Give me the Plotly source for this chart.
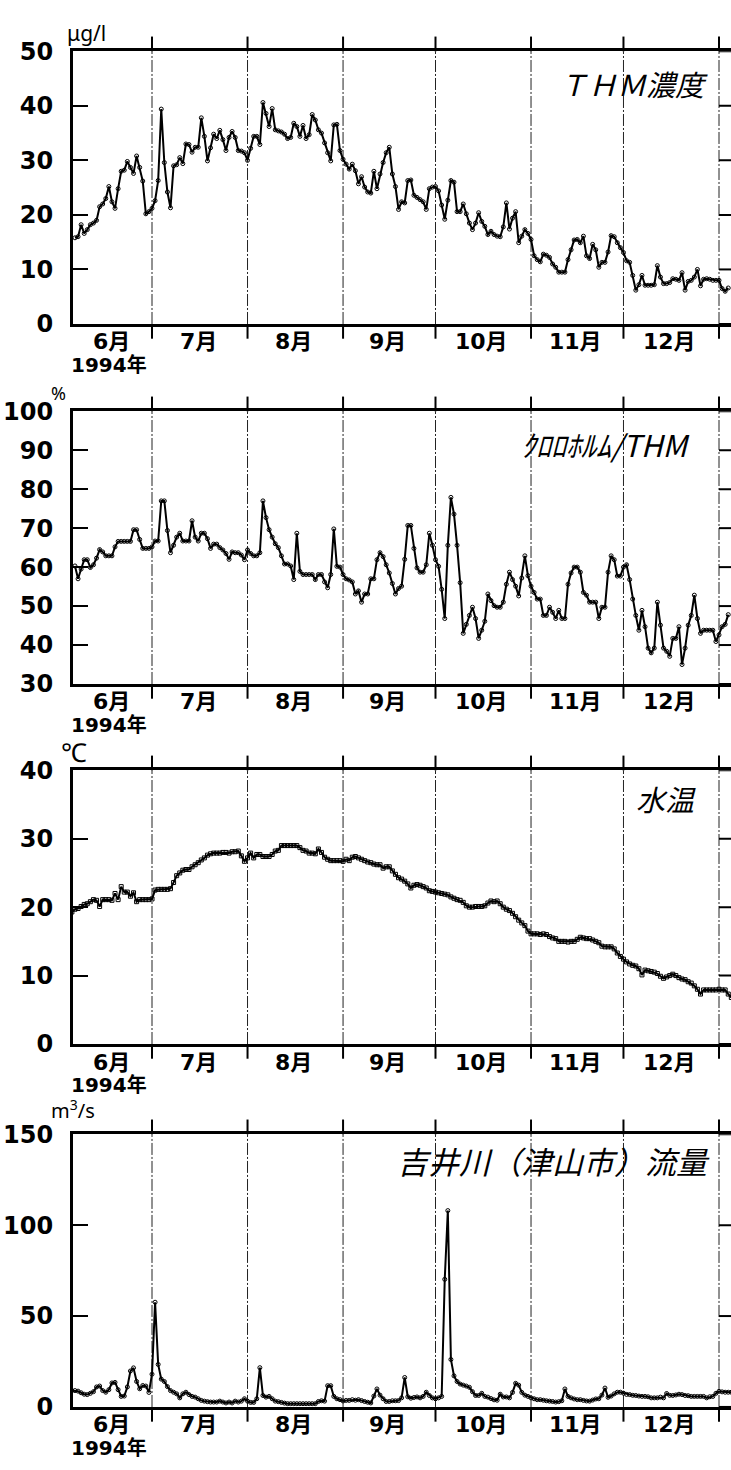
import pandas as pd
import plotly.graph_objects as go

# ---------------- data ----------------
# THM concentration (ug/l), daily from 1994-06-06
thm_jun = [15.8, 16, 18.2, 16.6, 17.3, 18.2, 18.5, 19, 21.5, 22, 23, 25.2, 22.4, 21.2, 24.8,
           28, 28.2, 29.8, 28.7, 27.6, 30.8, 28.7, 26.2, 20.2, 20.6]
thm_jul = [21.2, 22.6, 26.3, 39.4, 29.6, 24.2, 21.3, 29, 29.2, 30.5, 29.4, 33, 32.9, 31.5, 32.4,
           32.4, 37.8, 34.4, 29.9, 32.3, 34.8, 34, 35.5, 33.8, 31.8, 34.2, 35.3, 34.2, 31.8, 31.7, 31.4]
thm_aug = [30, 32.2, 34.4, 34.4, 32.9, 40.6, 38.6, 36.2, 39.5, 35.6, 35.4, 35.2, 34.8, 34, 34.2,
           36.8, 36.2, 34.4, 36.4, 34, 34.7, 38.4, 37.4, 35.6, 35, 33.2, 31.4, 29.9, 36.5, 36.6, 31.8]
thm_sep = [30.2, 29.3, 28.4, 29.3, 28.1, 25.7, 27, 25.1, 24.2, 24, 28, 24.8, 27.5, 29.6, 31.4,
           32.4, 27.5, 25.2, 21, 22.4, 22.2, 26.3, 26.4, 23.6, 23.2, 22.8, 22.4, 21, 24.8, 25.1]
thm_oct = [25.2, 24.4, 21.8, 19.2, 22.7, 26.3, 26, 20.6, 20.6, 22, 20.2, 18.5, 17.3, 18.5, 20.4,
           18.8, 17.9, 16.4, 17, 16.4, 16.1, 16, 17.8, 22.2, 17.4, 19.4, 20.6, 14.9, 16.1, 17.3, 16.6]
thm_nov = [15.5, 12.5, 11.8, 11.4, 12.8, 12.6, 12.2, 11, 10.4, 9.5, 9.5, 9.5, 11.8, 13.6, 15.4,
           15.5, 14.9, 16.1, 12.5, 12, 14.6, 13.6, 10.4, 11.3, 11.3, 13.2, 16.2, 16, 14.9, 14]
thm_dec = [13.1, 11.6, 11.3, 8.9, 6.2, 7.2, 8.9, 7.1, 7.1, 7.1, 7.2, 10.7, 8.6, 7.4, 7.4,
           7.6, 8.3, 8.2, 8, 9.4, 6.2, 7.8, 8, 8.6, 10, 7, 8.2, 8.3, 8.2, 8, 8]
thm_jan = [8, 6.5, 6, 6.6]

# chloroform / THM ratio (%), daily from 1994-06-06
chl_jun = [60.3, 57, 59.5, 61.9, 61.9, 59.9, 60.6, 62.3, 64.5, 63.9, 62.9, 62.9, 62.9, 65.2, 66.6,
           66.6, 66.6, 66.6, 66.6, 69.6, 69.6, 67.1, 64.8, 64.8, 64.8]
chl_jul = [65.2, 66.7, 66.7, 77, 77, 69.4, 63.7, 65.6, 67.7, 68.7, 66.7, 66.7, 66.7, 71.9, 67.7,
           66.7, 68.7, 68.7, 67.3, 64.8, 65.9, 65.9, 65, 64.4, 63.5, 62, 63.9, 63.7, 63.7, 63.1, 61.9]
chl_aug = [64.4, 63.5, 62.9, 62.9, 63.7, 77, 72.7, 69.6, 67.7, 66, 65, 62.9, 60.8, 60.8, 60.3,
           56.8, 68.7, 58.9, 58.1, 58.1, 58.1, 58.1, 56.8, 58.1, 58.1, 56.2, 54.7, 58.1, 69.8, 60.2, 60]
chl_sep = [58.1, 57, 56.7, 56.2, 53.1, 53.9, 51, 53.1, 53.1, 57, 57, 61.9, 63.7, 62.7, 60.6,
           58.5, 55.8, 53.1, 54.5, 55.1, 62, 70.7, 70.7, 64.8, 59.8, 58.7, 58.7, 60.6, 68.7, 65.6]
chl_oct = [61.9, 60.2, 54.3, 46.8, 65.6, 77.9, 73.6, 65.6, 56, 43, 45.3, 47.6, 49.7, 46.8, 41.7,
           43.8, 46.1, 53.1, 51.4, 50.1, 49.7, 49.7, 51, 55.6, 58.7, 56.8, 55.1, 52.6, 57.2, 62.9, 57.8]
chl_nov = [55.1, 53.5, 51.8, 51.8, 47.6, 47.6, 49.7, 48.4, 46.8, 48.9, 46.8, 46.8, 55.6, 58.5, 60,
           60, 58.7, 53.5, 52.8, 51, 51, 51, 46.8, 49.7, 49.7, 58.7, 62.9, 61.9, 57.7, 57.7]
chl_dec = [60, 60.6, 56.8, 51.8, 47.6, 43.8, 48.9, 44.7, 39.2, 38, 39.2, 51, 45.1, 39.2, 38.4,
           37.1, 41.7, 41.7, 44.7, 35, 39.2, 45.1, 47.6, 52.8, 46.8, 43, 43.8, 43.8, 43.8, 43.8, 40.9]
chl_jan = [42.6, 44.7, 45.3, 47.8]

# water temperature (deg C), daily from 1994-06-05
tmp_jun = [19.3, 19.7, 19.8, 20.1, 20.4, 20.5, 20.8, 21.1, 21, 20.1, 21.1, 21.1, 21.1, 21, 22,
           21.1, 23, 22.2, 22.2, 21.6, 22.1, 20.8, 21.1, 21.1, 21.1, 21.1]
tmp_jul = [21.2, 22.5, 22.6, 22.6, 22.6, 22.6, 22.7, 23.6, 24.6, 25, 25.4, 25.5, 25.5, 25.9, 26.2,
           26.5, 26.9, 27.2, 27.6, 27.8, 27.9, 27.9, 27.9, 28, 28, 27.9, 28.1, 28.1, 28.2, 27.5, 26.7]
tmp_aug = [27.2, 27.9, 27.2, 27.7, 27.7, 27.4, 27.4, 27.4, 27.7, 28.2, 28.3, 29, 29, 29, 29,
           29, 29, 28.7, 28.3, 28.2, 27.9, 27.9, 27.8, 28.5, 28, 27.3, 27, 26.8, 26.8, 26.8, 26.8]
tmp_sep = [26.7, 27, 26.8, 27.3, 27.4, 27.2, 27, 26.8, 26.6, 26.5, 26.3, 26.2, 26.2, 25.7, 25.9,
           25.9, 25.3, 24.8, 24.3, 24.1, 23.8, 23.4, 22.8, 23.2, 23.3, 23.2, 23, 22.8, 22.4, 22.3]
tmp_oct = [22.2, 22.1, 22, 21.9, 21.8, 21.5, 21.3, 21.1, 21, 20.7, 20.2, 20, 20, 20.1, 20.1,
           20.1, 20.2, 20.6, 20.9, 20.8, 20.9, 20.5, 20, 19.7, 19.5, 19.1, 18.6, 18.1, 17.7, 17.3, 16.5]
tmp_nov = [16.1, 16.1, 16.1, 16, 16.1, 16, 15.7, 15.5, 15.4, 15, 15, 15, 14.9, 15, 15,
           15.3, 15.6, 15.5, 15.4, 15.4, 15.2, 15, 14.8, 14.3, 14.2, 14.2, 14.2, 13.9, 13.3, 12.8]
tmp_dec = [12.4, 12, 11.7, 11.5, 11.4, 11, 10.1, 10.8, 10.7, 10.6, 10.5, 10.3, 9.9, 9.6, 9.8,
           10, 10.2, 10, 9.7, 9.5, 9.4, 9.1, 8.9, 8.5, 8, 7.3, 7.9, 7.9, 7.9, 7.9, 7.9]
tmp_jan = [8, 7.9, 7.9, 7.3, 6.8]

# Yoshii river (Tsuyama) flow (m3/s), daily from 1994-06-05
flw_jun = [9, 9, 8.7, 7.8, 7, 6.8, 7.5, 8.4, 11, 11.5, 9, 8.1, 9.5, 13.2, 13.5,
           9.5, 5.8, 6, 11, 19.8, 21.5, 14, 10, 11.8, 11.5, 8]
flw_jul = [18, 57.6, 23.4, 15.3, 14, 11.2, 9, 8.1, 7.2, 5, 7.2, 8.1, 6.8, 5.8, 5.4,
           4.5, 3.6, 3.2, 2.9, 2.7, 2.7, 2.7, 3.2, 2.7, 2.2, 2.7, 2.2, 3.2, 2.7, 3.2, 4.5]
flw_aug = [3.2, 2.5, 2.5, 4.5, 21.6, 6.3, 5.4, 5.8, 4.5, 3.2, 2.9, 2.5, 2.1, 1.8, 1.8,
           1.8, 1.8, 1.8, 1.8, 1.8, 1.8, 1.8, 1.8, 3, 3.4, 3.2, 11.7, 11.7, 5.8, 4.5, 4]
flw_sep = [3.3, 3.6, 3.6, 4, 3.7, 4, 3.5, 3, 2.6, 2.2, 6, 9.9, 6.5, 4.5, 3,
           3, 3.4, 3.4, 3.5, 5, 16.2, 5.6, 4.8, 5.2, 5.5, 5, 5.8, 8.1, 6.3, 5]
flw_oct = [4.5, 5, 5.8, 70.2, 108, 26.1, 17.1, 14, 12.6, 12, 11.5, 10.8, 8.4, 6.3, 6.3,
           7.5, 5.8, 5.4, 4.6, 3.9, 3.7, 7, 5.5, 5.5, 5, 8, 13, 12, 8, 6.5, 5.8]
flw_nov = [5, 4.5, 4, 4, 3.7, 3.4, 3.2, 3, 2.7, 2.9, 3.4, 9.9, 5.8, 5, 4.4,
           4, 4, 3.6, 3.3, 3.2, 3.8, 4.4, 4.5, 6.5, 10.4, 5.3, 6, 7.2, 8.1, 8.1]
flw_dec = [7.6, 6.9, 6.8, 6.4, 6.3, 6, 5.8, 5.8, 5.6, 5, 5, 5, 5.4, 5, 7.4,
           6.4, 6.3, 6.6, 7, 6.8, 6.3, 6.2, 5.8, 5.8, 5.8, 5.8, 5.8, 5, 5.6, 5.8, 7.5]
flw_jan = [8.6, 8.3, 8.1, 8.1, 8.1]

month_starts = ["1994-07-01", "1994-08-01", "1994-09-01", "1994-10-01",
                "1994-11-01", "1994-12-01", "1995-01-01"]
month_labels = ["6月", "7月", "8月", "9月", "10月", "11月", "12月"]
month_label_dates = ["1994-06-18", "1994-07-16", "1994-08-16", "1994-09-15 12:00",
                     "1994-10-16", "1994-11-15 12:00", "1994-12-16"]
year_label = "1994年"

panels = [
    dict(name="ＴＨＭ濃度", unit="μg/l", rng=[0, 50], ticks=[0, 10, 20, 30, 40, 50],
         start="1994-06-06", data=[thm_jun, thm_jul, thm_aug, thm_sep, thm_oct, thm_nov, thm_dec, thm_jan],
         sym="circle-open"),
    dict(name="ｸﾛﾛﾎﾙﾑ/THM", unit="%", rng=[30, 100], ticks=[30, 40, 50, 60, 70, 80, 90, 100],
         start="1994-06-06", data=[chl_jun, chl_jul, chl_aug, chl_sep, chl_oct, chl_nov, chl_dec, chl_jan],
         sym="circle-open"),
    dict(name="水温", unit="℃", rng=[0, 40], ticks=[0, 10, 20, 30, 40],
         start="1994-06-05", data=[tmp_jun, tmp_jul, tmp_aug, tmp_sep, tmp_oct, tmp_nov, tmp_dec, tmp_jan],
         sym="square-open"),
    dict(name="吉井川（津山市）流量", unit="m<sup>3</sup>/s", rng=[0, 150], ticks=[0, 50, 100, 150],
         start="1994-06-05", data=[flw_jun, flw_jul, flw_aug, flw_sep, flw_oct, flw_nov, flw_dec, flw_jan],
         sym="circle-open"),
]

# ---------------- layout geometry ----------------
W, H = 731, 1470
ML = 73
PW = W - ML
panel_px = [(38, 316), (405, 683), (771, 1050), (1142, 1420)]
X0, X1 = "1994-06-05 08:40", "1995-01-04 21:30"

FONT_NUM = "DejaVu Sans, Noto Sans CJK JP"
FONT_JP = "Noto Sans CJK JP"

fig = go.Figure()
shapes = []
annotations = []
layout = dict(width=W, height=H, margin=dict(l=ML, r=0, t=0, b=0, pad=0),
              paper_bgcolor="white", plot_bgcolor="white", showlegend=False)

title_right_px = [710, 692, 698, 712]
title_size = [29, 30, 29, 31]
title_dy = [-32, -33, -28, -26]
unit_pos = [(86, 19, 21), (58, 386, 18), (74, 752, 26), (73, 1117, 20)]

for i, p in enumerate(panels):
    k = "" if i == 0 else str(i + 1)
    xa, ya = "x" + k, "y" + k
    top, bot = panel_px[i]
    hpx = bot - top
    dom = [1 - bot / H, 1 - top / H]

    # series
    xs, ys = [], []
    starts = [p["start"]] + month_starts
    for s, vals in zip(starts, p["data"]):
        d = pd.date_range(s, periods=len(vals), freq="D")
        xs += list(d)
        ys += vals
    fig.add_trace(go.Scatter(
        x=xs, y=ys, xaxis=xa, yaxis=ya, mode="lines+markers",
        line=dict(color="black", width=2),
        marker=dict(symbol=p["sym"], size=4, color="black", line=dict(width=1, color="black")),
        cliponaxis=True, hoverinfo="skip"))

    layout["xaxis" + k] = dict(domain=[0, 1], anchor=ya, type="date", range=[X0, X1],
                               showgrid=False, zeroline=False, showticklabels=False, ticks="",
                               showline=True, linewidth=3, linecolor="black", mirror=True)
    layout["yaxis" + k] = dict(domain=dom, anchor=xa, range=p["rng"], tickvals=p["ticks"],
                               ticktext=[str(t) for t in p["ticks"]],
                               ticks="inside", ticklen=15, tickwidth=2, tickcolor="black",
                               showgrid=False, zeroline=False, showline=True, linewidth=3,
                               linecolor="black", mirror=False,
                               tickfont=dict(family=FONT_NUM, size=24, color="black", weight="bold"),
                               ticklabelstandoff=12)

    tick_frac = 15 / hpx
    for b in month_starts:
        shapes.append(dict(type="line", xref=xa, yref=ya + " domain", x0=b, x1=b, y0=0, y1=1,
                           line=dict(color="#222", width=1, dash="12px,2px,2px,2px"), layer="below"))
        shapes.append(dict(type="line", xref=xa, yref=ya + " domain", x0=b, x1=b, y0=1,
                           y1=1 + tick_frac, line=dict(color="black", width=2)))
        shapes.append(dict(type="line", xref=xa, yref=ya + " domain", x0=b, x1=b, y0=0,
                           y1=-tick_frac, line=dict(color="black", width=2)))
    # neighbouring axis at 1 January with inward ticks
    for t in p["ticks"]:
        shapes.append(dict(type="line", xref=xa, yref=ya, x0=month_starts[-1], x1="1995-01-07",
                           y0=t, y1=t, line=dict(color="black", width=2)))

    # month labels
    for lab, d in zip(month_labels, month_label_dates):
        annotations.append(dict(text=lab, xref=xa, yref=ya + " domain", x=d, y=0, yshift=-18,
                                xanchor="center", yanchor="middle", showarrow=False,
                                font=dict(family=FONT_NUM, size=22, color="black", weight="bold")))
    annotations.append(dict(text=year_label, xref=xa, yref=ya + " domain", x="1994-06-17", y=0,
                            yshift=-41, xanchor="center", yanchor="middle", showarrow=False,
                            font=dict(family=FONT_NUM, size=20, color="black", weight="bold")))
    # panel title
    annotations.append(dict(text="<i>" + p["name"] + "</i>", xref="paper", yref=ya + " domain",
                            x=(title_right_px[i] - ML) / PW, y=1, yshift=title_dy[i],
                            xanchor="right", yanchor="middle", showarrow=False,
                            font=dict(family=FONT_JP, size=title_size[i], color="black")))
    # unit
    ux, uy, us = unit_pos[i]
    annotations.append(dict(text=p["unit"], xref="paper", yref="paper",
                            x=(ux - ML) / PW, y=1 - uy / H, xanchor="center", yanchor="middle",
                            showarrow=False, font=dict(family="Noto Sans, " + FONT_JP, size=us, color="black")))

layout["shapes"] = shapes
layout["annotations"] = annotations
fig.update_layout(**layout)

fig.write_html("out.html", config={"displayModeBar": False},
               post_script="document.body.style.margin='0';document.body.style.overflow='hidden';")
